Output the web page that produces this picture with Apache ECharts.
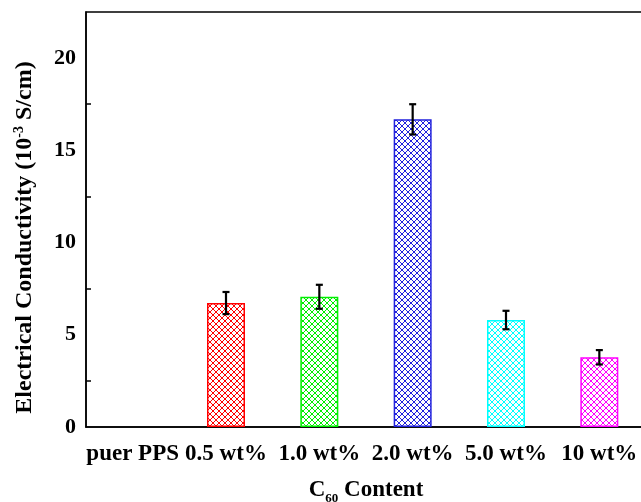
<!DOCTYPE html>
<html><head><meta charset="utf-8">
<script src="https://cdn.jsdelivr.net/npm/echarts@6/dist/echarts.min.js"></script>
<style>html,body{margin:0;padding:0;background:#fff}#c{width:641px;height:502px}</style>
</head><body><div id="c"></div>
<script>
const categories = ['puer PPS', '0.5 wt%', '1.0 wt%', '2.0 wt%', '5.0 wt%', '10 wt%'];
const values = [null, 6.72, 7.06, 16.68, 5.80, 3.78];
const errors = [null, 0.60, 0.65, 0.82, 0.50, 0.39];
const colors = ['#000000', '#ff0000', '#00ee00', '#2222dd', '#00ffff', '#ff00ff'];
const yTicks = [0, 5, 10, 15, 20];

function hatch(color) {
  const s = 6;
  const c = document.createElement('canvas');
  c.width = s; c.height = s;
  const g = c.getContext('2d');
  g.fillStyle = '#fff'; g.fillRect(0, 0, s, s);
  g.fillStyle = color;
  for (let k = 0; k < s; k++) {
    g.fillRect(k, k, 1, 1);
    g.fillRect(k, s - 1 - k, 1, 1);
  }
  return { image: c, repeat: 'repeat' };
}

const font = 'Liberation Serif';
const chart = echarts.init(document.getElementById('c'));
chart.setOption({
  animation: false,
  grid: { left: 86, top: 12, width: 560, height: 415, show: true, borderColor: '#000', borderWidth: 1.5,
          containLabel: false, outerBoundsMode: 'none' },
  xAxis: {
    type: 'category', data: categories,
    axisLine: { lineStyle: { color: '#000', width: 1.5 } },
    axisTick: { inside: true, alignWithLabel: true, length: 8, lineStyle: { color: '#000', width: 1.5 } },
    axisLabel: { color: '#000', fontFamily: font, fontWeight: 'bold', fontSize: 23, margin: 16, interval: 0 },
    name: '{a|C}{s|60}{a| Content}', nameLocation: 'middle', nameGap: 49,
    nameTextStyle: {
      rich: {
        a: { fontFamily: font, fontWeight: 'bold', fontSize: 23, color: '#000' },
        s: { fontFamily: font, fontWeight: 'bold', fontSize: 13, color: '#000', verticalAlign: 'bottom', padding: [16, 0, 0, 0] }
      }
    }
  },
  yAxis: {
    type: 'value', min: 0, max: 22.5, interval: 5,
    axisLine: { show: true, lineStyle: { color: '#000', width: 1.5 } },
    axisTick: { inside: true, length: 9, lineStyle: { color: '#000', width: 1.5 } },
    minorTick: { show: true, splitNumber: 2, length: 5, lineStyle: { color: '#000', width: 1.5 } },
    splitLine: { show: false },
    axisLabel: { color: '#000', fontFamily: font, fontWeight: 'bold', fontSize: 22, margin: 10,
      formatter: v => (yTicks.includes(v) ? String(v) : '') },
    name: '{a|Electrical Conductivity (10}{s|-3}{a| S/cm)}', nameLocation: 'middle', nameGap: 48, nameRotate: 90,
    nameTextStyle: {
      padding: [0, 36, 0, 0],
      rich: {
        a: { fontFamily: font, fontWeight: 'bold', fontSize: 24, color: '#000' },
        s: { fontFamily: font, fontWeight: 'bold', fontSize: 14, color: '#000', verticalAlign: 'top', padding: [0, 0, 12, 0] }
      }
    }
  },
  series: [
    {
      type: 'bar', barWidth: 38,
      data: values.map((v, i) => ({
        value: v,
        itemStyle: { color: hatch(colors[i]), borderColor: colors[i], borderWidth: 1.5 }
      }))
    },
    {
      type: 'custom',
      data: values.map((v, i) => [i, v, errors[i]]),
      renderItem: function (params, api) {
        const v = api.value(1), e = api.value(2);
        if (v == null || isNaN(v)) return null;
        const i = api.value(0);
        const top = api.coord([i, v + e]);
        const bot = api.coord([i, v - e]);
        const w = 3.5;
        const st = { stroke: '#000', lineWidth: 2.2 };
        return {
          type: 'group', children: [
            { type: 'line', shape: { x1: top[0], y1: top[1], x2: bot[0], y2: bot[1] }, style: st },
            { type: 'line', shape: { x1: top[0] - w, y1: top[1], x2: top[0] + w, y2: top[1] }, style: st },
            { type: 'line', shape: { x1: bot[0] - w, y1: bot[1], x2: bot[0] + w, y2: bot[1] }, style: st }
          ]
        };
      },
      z: 10
    }
  ]
});
</script></body></html>
